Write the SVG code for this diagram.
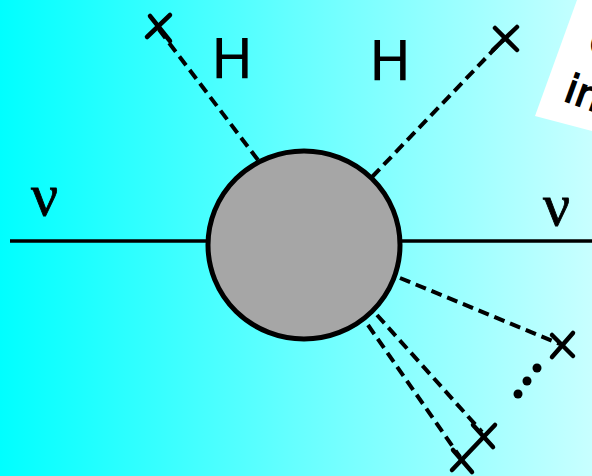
<svg xmlns="http://www.w3.org/2000/svg" width="592" height="476" viewBox="0 0 592 476">
<defs>
<linearGradient id="bg" x1="0" y1="0" x2="1" y2="0">
<stop offset="0" stop-color="#00ffff"/>
<stop offset="0.5" stop-color="#66ffff"/>
<stop offset="1" stop-color="#c8ffff"/>
</linearGradient>
<style>
.solid{stroke:#000;stroke-width:3.5;fill:none}
.dash{stroke:#000;stroke-width:4;fill:none;stroke-dasharray:11 6}
.x{stroke:#000;stroke-width:4.5;stroke-linecap:round;fill:none}
.h{font-family:"DejaVu Sans",sans-serif;font-size:56px;fill:#000}
.nu{font-family:"Liberation Serif",serif;font-size:60px;fill:#000;stroke:#000;stroke-width:0.8}
.note{font-family:"DejaVu Sans",sans-serif;font-size:40px;fill:#000;stroke:#000;stroke-width:1.5}
</style>
</defs>
<rect x="0" y="0" width="592" height="476" fill="url(#bg)"/>
<g id="note">
<polygon points="577,0 592,0 592,131 535,116" fill="#fff"/>
<text class="note" x="586" y="52" transform="rotate(20 586 52)">C</text>
<text class="note" x="562" y="100" transform="rotate(20 562 100)">in</text>
</g>
<g id="connectors">
<line class="solid" x1="10" y1="241" x2="208" y2="241"/>
<line class="solid" x1="400" y1="241" x2="592" y2="241"/>
<line class="dash" x1="258" y1="160" x2="157" y2="27"/>
<line class="dash" x1="372" y1="177" x2="505" y2="38"/>
<line class="dash" x1="400" y1="278" x2="560" y2="344"/>
<line class="dash" x1="377" y1="315" x2="482" y2="432"/>
<line class="dash" x1="368" y1="325" x2="460" y2="457"/>
</g>
<g id="blob">
<ellipse cx="304" cy="245" rx="96" ry="94" fill="#a6a6a6" stroke="#000" stroke-width="5"/>
</g>
<g id="vertex-tl">
<line class="x" x1="147" y1="37" x2="170" y2="15"/>
<line class="x" x1="150" y1="16" x2="170" y2="41"/>
</g>
<g id="vertex-tr">
<line class="x" x1="495" y1="28" x2="517" y2="50"/>
<line class="x" x1="517" y1="27" x2="493" y2="50"/>
</g>
<g id="vertex-r">
<line class="x" x1="552" y1="357" x2="573" y2="333"/>
<line class="x" x1="552" y1="335" x2="573" y2="356"/>
</g>
<g id="vertex-b1">
<line class="x" x1="473" y1="425" x2="493" y2="447"/>
<line class="x" x1="495" y1="425" x2="452" y2="470"/>
</g>
<g id="vertex-b2">
<line class="x" x1="453" y1="450" x2="472" y2="472"/>
</g>
<g id="dots">
<circle cx="537" cy="368" r="4.5"/>
<circle cx="527" cy="381" r="4.5"/>
<circle cx="518" cy="394" r="4.5"/>
</g>
<g id="labels">
<text class="h" x="211" y="78">H</text>
<text class="h" x="369" y="80">H</text>
<text class="nu" x="31" y="215">ν</text>
<text class="nu" x="543" y="225">ν</text>
</g>
</svg>
